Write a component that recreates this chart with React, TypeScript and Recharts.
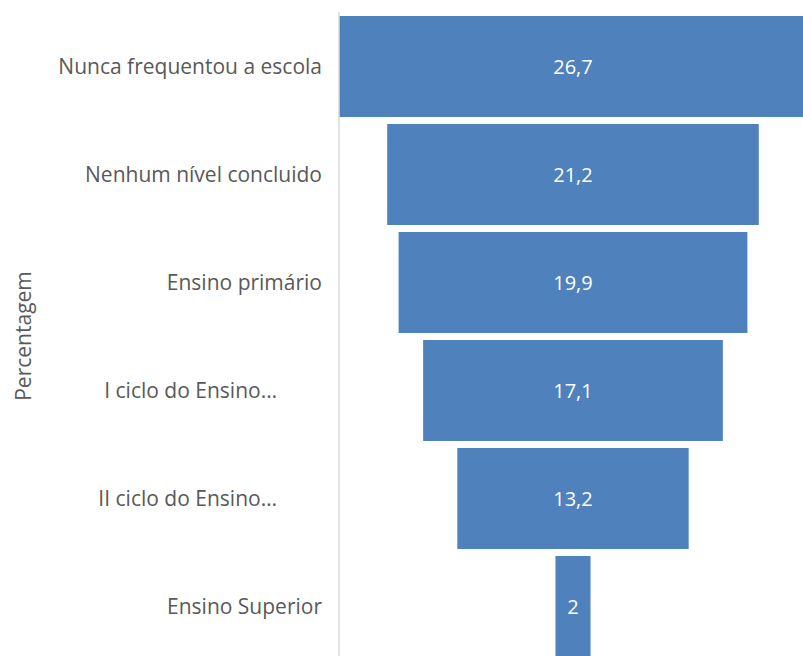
import { BarChart, Bar, XAxis, YAxis, LabelList } from 'recharts';

const categories = [
  'Nunca frequentou a escola',
  'Nenhum nível concluido',
  'Ensino primário',
  'I ciclo do Ensino…',
  'II ciclo do Ensino…',
  'Ensino Superior',
];
const values = [26.7, 21.2, 19.9, 17.1, 13.2, 2];

const maxValue = Math.max(...values);

// funil: barra invisível de enchimento + barra visível centrada
const data = categories.map((name, i) => ({
  name,
  pad: (maxValue - values[i]) / 2,
  value: values[i],
}));

const FONT = "'Open Sans', 'Noto Sans', sans-serif";

const CategoryTick = ({ x, y, payload }: any) => {
  const truncated = String(payload.value).endsWith('…');
  return (
    <text
      x={x - (truncated ? 54 : 9)}
      y={y}
      dy={8}
      textAnchor="end"
      fill="#595959"
      fontSize={21}
      fontFamily={FONT}
    >
      {payload.value}
    </text>
  );
};

export default function App() {
  return (
    <div style={{ position: 'absolute', left: 0, top: 0, width: 803, height: 656, overflow: 'hidden', background: '#fff' }}>
      <BarChart
        width={820}
        height={672}
        data={data}
        layout="vertical"
        margin={{ top: 12, right: 13, bottom: 12, left: 0 }}
      >
        <XAxis type="number" domain={[0, maxValue]} hide />
        <YAxis
          type="category"
          dataKey="name"
          width={339}
          axisLine={{ stroke: '#d9d9d9', strokeWidth: 1.5 }}
          tickLine={false}
          tick={<CategoryTick />}
          label={{
            value: 'Percentagem',
            angle: -90,
            position: 'insideLeft',
            offset: 24,
            style: { fill: '#595959', fontSize: 21, fontFamily: FONT, textAnchor: 'middle' },
          }}
        />
        <Bar dataKey="pad" stackId="f" fill="transparent" barSize={101} isAnimationActive={false} />
        <Bar dataKey="value" stackId="f" fill="#4f81bd" barSize={101} isAnimationActive={false}>
          <LabelList
            dataKey="value"
            position="center"
            fill="#ffffff"
            fontSize={20}
            fontFamily={FONT}
            formatter={(v: any) => String(v).replace('.', ',')}
          />
        </Bar>
      </BarChart>
    </div>
  );
}
